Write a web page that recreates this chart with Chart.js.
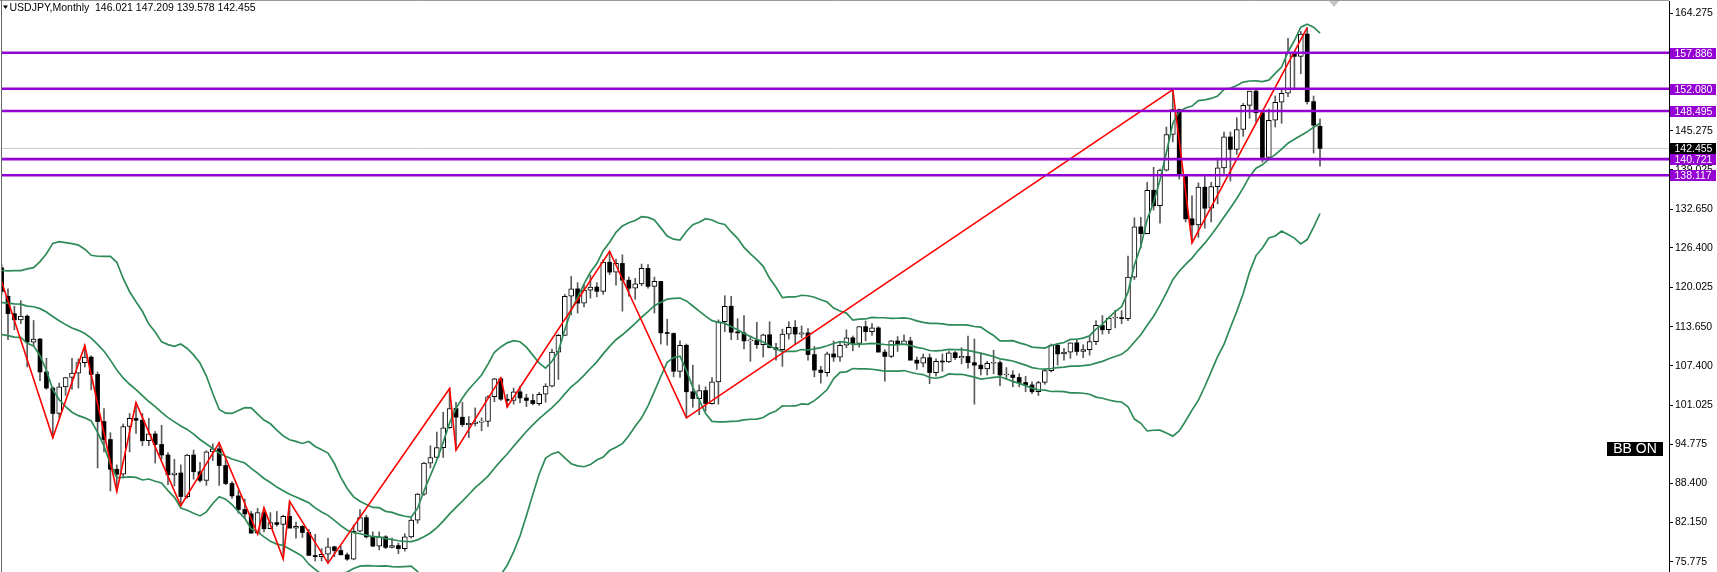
<!DOCTYPE html>
<html><head><meta charset="utf-8">
<script src="https://cdn.jsdelivr.net/npm/chart.js@4.4.1/dist/chart.umd.min.js"></script>
<style>html,body{margin:0;padding:0;background:#fff;overflow:hidden}canvas{display:block}</style>
</head><body>
<canvas id="c" width="1717" height="572"></canvas>
<script>
// ---------------- DATA (USDJPY monthly, Jul 2007 – Sep 2024) ----------------
const symbolTitle = 'USDJPY,Monthly';
const headerValues = '146.021 147.209 139.578 142.455';
const firstYear = 2007, firstMonth = 7;

const opens = [
 123.2,118.6,115.8,114.8,115.4,111.2,
 111.7,106.4,103.8,99.7,104.0,105.5,106.2,107.9,108.8,106.0,98.4,95.5,
 90.7,89.9,97.6,98.9,98.6,95.3,96.4,94.7,93.0,89.8,90.1,86.3,
 93.0,90.3,88.9,93.5,94.0,91.3,88.4,86.4,84.2,83.5,80.4,83.7,
 81.1,82.1,81.8,83.1,81.2,81.5,80.5,76.8,76.6,77.0,78.2,77.6,
 76.9,76.2,80.7,82.9,79.8,78.3,79.8,78.1,78.4,77.9,79.8,82.5,
 86.7,91.7,92.6,94.2,97.4,100.5,99.1,97.9,98.1,98.3,98.4,102.4,
 105.3,102.0,101.8,103.2,102.2,101.8,101.3,102.8,104.1,109.6,112.3,118.6,
 119.8,117.5,119.6,120.1,119.4,124.1,122.5,123.9,121.2,119.9,120.6,123.1,
 120.2,121.0,112.7,112.6,106.5,110.7,103.2,102.1,103.4,101.3,104.8,114.5,
 117.0,112.8,112.7,111.4,111.5,110.8,112.4,110.3,110.0,112.5,113.6,112.5,
 112.7,109.2,106.7,106.3,109.3,108.8,110.7,111.9,111.0,113.7,112.9,113.5,
 109.6,108.9,111.4,110.8,111.4,108.3,107.8,108.7,106.3,108.1,108.0,109.5,
 108.7,108.9,107.9,107.5,106.9,107.8,107.9,105.9,105.9,105.5,104.7,104.3,
 103.2,104.7,106.6,110.7,109.3,109.6,111.1,109.7,110.0,111.3,113.9,113.2,
 115.1,115.1,115.0,121.7,129.8,128.7,135.7,133.2,138.95,144.7,148.7,138.1,
 131.1,130.1,136.2,132.8,136.3,139.3,144.3,142.3,145.5,149.4,151.7,148.2,
 141.0,147.0,149.9,151.35,157.8,157.3,160.9,150.0,146.021
];
const highs = [
 123.7,119.8,117.0,117.9,115.6,114.7,
 111.8,108.6,104.0,104.6,105.5,108.6,108.5,110.66,109.0,106.4,100.5,96.6,
 91.4,98.0,99.7,101.44,99.7,98.9,96.8,97.8,93.4,92.3,91.4,93.1,
 93.8,91.8,93.7,94.8,94.99,92.4,88.7,87.3,85.9,83.9,84.4,84.5,
 83.7,83.9,83.3,85.52,82.2,81.6,81.0,80.2,77.9,79.6,78.3,78.3,
 77.2,81.7,84.2,83.3,80.6,80.6,80.0,79.6,78.8,80.3,82.8,86.8,
 91.8,94.5,96.7,99.9,103.74,101.5,101.5,99.2,100.6,99.0,102.6,105.4,
 105.44,102.8,103.8,104.1,102.8,102.8,103.1,104.5,110.1,112.5,118.9,121.8,
 120.8,120.5,122.0,120.8,124.5,125.86,124.6,125.3,121.7,121.5,123.8,123.7,
 121.7,121.0,114.9,112.7,111.4,110.9,107.5,104.3,104.0,105.5,114.8,118.7,
 118.6,115.0,115.5,112.2,114.4,112.5,114.5,111.0,113.3,114.5,114.7,113.8,
 113.4,110.5,107.3,109.6,111.4,111.1,113.2,112.2,113.7,114.6,114.2,113.7,
 110.0,111.5,112.1,112.4,112.0,108.8,109.3,109.3,108.5,109.3,109.7,109.7,
 110.3,112.2,111.7,109.4,108.1,109.9,108.2,107.1,106.6,106.1,105.7,104.8,
 104.9,106.7,110.9,110.9,110.2,111.1,111.7,110.8,112.1,114.7,115.5,115.2,
 116.35,116.3,125.1,131.25,131.35,137.0,139.4,139.1,145.9,151.95,148.8,138.2,
 134.8,136.9,137.9,137.0,140.9,145.1,145.1,147.4,149.7,151.7,151.9,148.4,
 148.8,150.9,151.97,160.2,157.99,161.3,161.95,150.9,147.209
];
const lows = [
 118.9,111.6,113.2,114.2,107.2,110.5,
 105.0,103.6,95.77,99.0,102.6,103.6,103.8,107.2,103.5,90.9,93.5,87.2,
 87.13,89.3,93.5,96.5,94.5,94.5,91.7,92.3,88.2,88.0,84.82,86.0,
 89.1,88.6,88.1,92.1,88.1,88.2,86.0,83.6,82.9,80.4,80.25,80.6,
 81.1,81.5,76.25,81.3,79.6,79.7,76.9,75.9,75.9,75.56,76.6,76.9,
 76.0,76.1,80.6,79.6,78.2,77.7,77.9,78.0,77.1,77.5,79.6,82.0,
 86.5,90.9,92.6,92.6,97.3,93.79,97.6,95.8,97.7,96.9,97.6,101.6,
 101.8,100.76,101.2,101.4,100.8,101.1,101.0,101.5,104.0,105.2,112.3,115.6,
 115.9,116.9,118.3,118.5,118.9,122.1,120.4,116.2,118.6,118.1,120.3,119.9,
 115.9,110.9,110.7,105.6,105.5,99.0,100.7,99.5,100.1,101.2,101.2,112.9,
 111.6,111.6,110.1,108.1,110.2,108.8,110.6,108.3,107.3,111.7,110.8,111.9,
 108.3,105.6,104.6,105.7,108.1,108.1,110.3,109.8,110.4,111.4,112.3,109.6,
 104.9,108.7,109.7,110.8,108.3,106.8,107.2,104.5,105.7,106.5,107.9,108.4,
 107.7,107.0,101.2,105.9,105.9,106.1,104.2,105.2,104.0,104.0,103.2,102.9,
 102.6,104.4,106.4,107.5,108.3,108.6,109.1,108.7,109.1,110.8,112.5,112.6,
 113.5,114.2,114.65,121.3,126.4,128.65,132.5,130.4,138.8,143.5,137.5,130.6,
 127.23,128.1,129.6,130.6,133.5,138.4,137.2,141.5,144.4,147.3,146.7,140.25,
 140.8,145.9,146.5,150.8,151.9,154.5,149.6,141.7,139.578
];
const closes = [
 119.4,115.8,114.8,115.4,111.2,111.7,
 106.4,103.8,99.7,104.0,105.5,106.2,107.9,108.8,106.0,98.4,95.5,90.7,
 89.9,97.6,98.9,98.6,95.3,96.4,94.7,93.0,89.8,90.1,86.3,93.0,
 90.3,88.9,93.5,94.0,91.3,88.4,86.4,84.2,83.5,80.4,83.7,81.1,
 82.1,81.8,83.1,81.2,81.5,80.5,76.8,76.6,77.0,78.2,77.6,76.9,
 76.2,80.7,82.9,79.8,78.3,79.8,78.1,78.4,77.9,79.8,82.5,86.7,
 91.7,92.6,94.2,97.4,100.5,99.1,97.9,98.1,98.3,98.4,102.4,105.3,
 102.0,101.8,103.2,102.2,101.8,101.3,102.8,104.1,109.6,112.3,118.6,119.8,
 117.5,119.6,120.1,119.4,124.1,122.5,123.9,121.2,119.9,120.6,123.1,120.2,
 121.0,112.7,112.6,106.5,110.7,103.2,102.1,103.4,101.3,104.8,114.5,117.0,
 112.8,112.7,111.4,111.5,110.8,112.4,110.3,110.0,112.5,113.6,112.5,112.7,
 109.2,106.7,106.3,109.3,108.8,110.7,111.9,111.0,113.7,112.9,113.5,109.6,
 108.9,111.4,110.8,111.4,108.3,107.8,108.7,106.3,108.1,108.0,109.5,108.7,
 108.9,107.9,107.5,106.9,107.8,107.9,105.9,105.9,105.5,104.7,104.3,103.2,
 104.7,106.6,110.7,109.3,109.6,111.1,109.7,110.0,111.3,113.9,113.2,115.1,
 115.1,115.0,121.7,129.8,128.7,135.7,133.2,138.95,144.7,148.7,138.1,131.1,
 130.1,136.2,132.8,136.3,139.3,144.3,142.3,145.5,149.4,151.7,148.2,141.0,
 147.0,149.9,151.35,157.8,157.3,160.9,150.0,146.2,142.455
];
// closes Dec 2005 – Jun 2007 (history needed by the Bollinger(20,2) indicator, not drawn as candles)
const warmupCloses = [117.9,117.2,115.9,117.7,113.9,112.5,114.4,114.6,117.4,118.1,116.9,115.7,119.0,120.7,118.5,117.8,119.4,121.7,123.2];

// ZigZag pivots (bar index, price); index -1 = Jun 2007 high, just left of the view
const zigzagIndex = [-1,8,13,18,21,28,34,40,41,44,45,51,70,71,78,79,95,107,183,186,204];
const zigzagPrice = [124.14,95.77,110.66,87.13,101.44,84.82,94.99,80.25,84.50,76.25,85.52,75.56,103.74,93.79,105.44,100.76,125.86,99.00,151.95,127.23,161.95];

const levelPrices = [157.886, 152.080, 148.495, 140.721, 138.117];
const currentPrice = 142.455;
const yTickValues = [164.275, 145.275, 139.025, 132.650, 126.400, 120.025, 113.650, 107.400, 101.025, 94.775, 88.400, 82.150, 75.775];

// month categories
const months = closes.map((_, i) => {
  const m = firstMonth - 1 + i;
  return (firstYear + Math.floor(m / 12)) + '-' + String(m % 12 + 1).padStart(2, '0');
});

// ---------------- view ----------------
const X_MIN = 0.0625, X_MAX = 260.53;
const Y_MIN = 74.13, Y_MAX = 166.227;
const SHIFT_MARK = 208.2;

// Bollinger Bands (20, 2) computed from the closes
const allCloses = warmupCloses.concat(closes);
const bbUpper = [], bbMid = [], bbLower = [];
for (let i = 0; i < closes.length; i++) {
  const w = allCloses.slice(i, i + 20);
  const mean = w.reduce((a, b) => a + b, 0) / w.length;
  const sd = Math.sqrt(w.reduce((a, b) => a + (b - mean) * (b - mean), 0) / w.length);
  bbMid.push({x: i, y: mean});
  bbUpper.push({x: i, y: mean + 2 * sd});
  bbLower.push({x: i, y: mean - 2 * sd});
}

const wickData = closes.map((c, i) => ({x: i, y: [lows[i], highs[i]]}));
const bullData = [], bearData = [];
closes.forEach((c, i) => {
  if (c >= opens[i]) bullData.push({x: i, y: [opens[i], c]});
  else bearData.push({x: i, y: [opens[i], c]});
});
const zigzagData = zigzagIndex.map((x, k) => ({x: x, y: zigzagPrice[k]}));

const FONT = '"Liberation Sans", Arial, sans-serif';
const GREEN = '#2e8b57';
const PURPLE = '#9400d3';

const datasets = [
  {type: 'line', data: [{x: X_MIN - 2, y: currentPrice}, {x: X_MAX + 2, y: currentPrice}], borderColor: '#c8c8c8', borderWidth: 1, pointRadius: 0, order: 9},
  {type: 'bar', data: wickData, backgroundColor: '#5a5a5a', barThickness: 1, grouped: false, order: 8},
  {type: 'bar', data: bullData, backgroundColor: '#ffffff', borderColor: '#000000', borderWidth: 1, borderSkipped: false, barThickness: 5, minBarLength: 1, grouped: false, order: 7},
  {type: 'bar', data: bearData, backgroundColor: '#000000', borderWidth: 0, barThickness: 4, minBarLength: 1, grouped: false, order: 6},
  {type: 'line', data: bbUpper, borderColor: GREEN, borderWidth: 1.7, pointRadius: 0, tension: 0, order: 4},
  {type: 'line', data: bbMid, borderColor: GREEN, borderWidth: 1.7, pointRadius: 0, tension: 0, order: 4},
  {type: 'line', data: bbLower, borderColor: GREEN, borderWidth: 1.7, pointRadius: 0, tension: 0, order: 4},
  {type: 'line', data: zigzagData, borderColor: '#ff0000', borderWidth: 1.6, pointRadius: 0, tension: 0, order: 3}
];
levelPrices.forEach(p => datasets.push({
  type: 'line', data: [{x: X_MIN - 2, y: p}, {x: X_MAX + 2, y: p}],
  borderColor: PURPLE, borderWidth: 2.6, pointRadius: 0, order: 1
}));

const overlay = {
  id: 'overlay',
  afterDraw(chart) {
    const ctx = chart.ctx, ca = chart.chartArea;
    const ys = chart.scales.y, xs = chart.scales.x;
    ctx.save();
    // frame
    ctx.strokeStyle = '#9a9a9a'; ctx.lineWidth = 1;
    ctx.beginPath(); ctx.moveTo(0, 0.5); ctx.lineTo(ca.right, 0.5); ctx.stroke();
    ctx.strokeStyle = '#6a6a6a';
    ctx.beginPath(); ctx.moveTo(1.5, 0); ctx.lineTo(1.5, ca.bottom); ctx.stroke();
    // chart shift marker
    const sx = xs.getPixelForValue(SHIFT_MARK);
    ctx.fillStyle = '#c4c4c4';
    ctx.beginPath(); ctx.moveTo(sx - 5, 1); ctx.lineTo(sx + 5, 1); ctx.lineTo(sx, 7); ctx.closePath(); ctx.fill();
    // header
    ctx.fillStyle = '#000';
    ctx.beginPath(); ctx.moveTo(3, 5.5); ctx.lineTo(8, 5.5); ctx.lineTo(5.5, 9); ctx.closePath(); ctx.fill();
    ctx.font = '10.5px ' + FONT; ctx.textBaseline = 'alphabetic'; ctx.textAlign = 'left';
    ctx.fillText(symbolTitle, 9.5, 11);
    ctx.fillText(headerValues, 95, 11);
    // price labels on the axis
    const bx = ca.right + 1, bw = 46, bh = 11;
    ctx.textBaseline = 'middle';
    const drawLabel = (p, bg) => {
      const y = Math.round(ys.getPixelForValue(p));
      ctx.fillStyle = bg; ctx.fillRect(bx, y - 5, bw, bh);
      ctx.fillStyle = '#fff'; ctx.fillText(p.toFixed(3), bx + 4.5, y + 1);
    };
    drawLabel(currentPrice, '#000');
    levelPrices.forEach(p => drawLabel(p, PURPLE));
    // BB ON badge
    ctx.fillStyle = '#000'; ctx.fillRect(ca.right - 62, 442, 56, 14);
    ctx.fillStyle = '#fff'; ctx.font = '14px ' + FONT; ctx.textAlign = 'center';
    ctx.fillText('BB ON', ca.right - 34, 449.5);
    ctx.restore();
  }
};

new Chart(document.getElementById('c'), {
  type: 'bar',
  data: {labels: months, datasets: datasets},
  options: {
    responsive: false, animation: false, devicePixelRatio: 1, events: [],
    layout: {padding: {left: 2, top: 1, right: 0, bottom: 0}},
    plugins: {legend: {display: false}, tooltip: {enabled: false}},
    scales: {
      x: {type: 'linear', display: false, offset: false, min: X_MIN, max: X_MAX},
      y: {
        type: 'linear', position: 'right', min: Y_MIN, max: Y_MAX,
        afterBuildTicks: s => { s.ticks = yTickValues.map(v => ({value: v})); },
        afterFit: s => { s.width = 48; s.paddingTop = 0; s.paddingBottom = 0; },
        grid: {drawOnChartArea: false, drawTicks: true, tickLength: 4, color: '#000', lineWidth: 1},
        border: {display: true, color: '#000', width: 1},
        ticks: {autoSkip: false, padding: 2, color: '#000', font: {family: FONT, size: 10.5},
                callback: v => Number(v).toFixed(3)}
      }
    }
  },
  plugins: [overlay]
});
</script>
</body></html>
